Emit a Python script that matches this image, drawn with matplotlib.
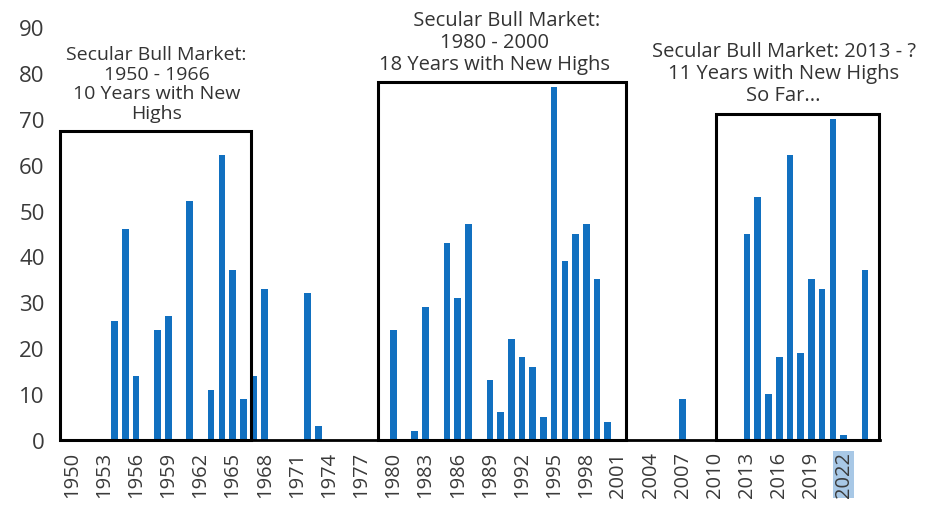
import matplotlib
matplotlib.use("Agg")
import matplotlib.pyplot as plt
from matplotlib.patches import Rectangle

plt.rcParams['font.family'] = ['Open Sans', 'DejaVu Sans']

years = list(range(1950, 2025))
high_years = [1954, 1955, 1956, 1958, 1959, 1961, 1963, 1964, 1965, 1966, 1967, 1968,
              1972, 1973, 1980, 1982, 1983, 1985, 1986, 1987, 1989, 1990, 1991, 1992,
              1993, 1994, 1995, 1996, 1997, 1998, 1999, 2000, 2007, 2013, 2014, 2015,
              2016, 2017, 2018, 2019, 2020, 2021, 2022, 2024]
high_counts = [26, 46, 14, 24, 27, 52, 11, 62, 37, 9, 14, 33,
               32, 3, 24, 2, 29, 43, 31, 47, 13, 6, 22, 18,
               16, 5, 77, 39, 45, 47, 35, 4, 9, 45, 53, 10,
               18, 62, 19, 35, 33, 70, 1, 37]
counts_by_year = dict(zip(high_years, high_counts))
values = [counts_by_year.get(y, 0) for y in years]
tick_years = list(range(1950, 2023, 3))

boxes = [
    (1948.9, 1966.7, 67.3, "Secular Bull Market:\n1950 - 1966\n10 Years with New\nHighs", 1957.9, 69.3, 14),
    (1978.6, 2001.7, 78, "     Secular Bull Market:\n1980 - 2000\n18 Years with New Highs", 1989.4, 79.8, 14.5),
    (2010.1, 2025.3, 71, "Secular Bull Market: 2013 - ?\n11 Years with New Highs\nSo Far...", 2016.4, 73.0, 14.5),
]

fig = plt.figure(figsize=(9.34, 5.06), dpi=100)
ax = fig.add_axes([60/934, 65/506, 820/934, 413/506])
ax.bar(years, values, width=0.62, color='#1170c0', zorder=2)
ax.set_xlim(1948.9, 2025.4)
ax.set_ylim(0, 90)
ax.set_yticks(range(0, 91, 10))
ax.set_xticks(tick_years)
ax.set_xticklabels([str(t) for t in tick_years], rotation=90)
ax.tick_params(axis='both', length=0, colors='#3a3a3a')
ax.tick_params(axis='y', pad=11, labelsize=16)
ax.tick_params(axis='x', pad=8, labelsize=14.5)
for s in ['top', 'right', 'left']:
    ax.spines[s].set_visible(False)
ax.spines['bottom'].set_linewidth(2)
ax.spines['bottom'].set_color('black')

for lbl in ax.get_xticklabels():
    if lbl.get_text() == '2022':
        lbl.set_bbox(dict(facecolor='#a8c8e6', edgecolor='none', pad=0.5))

for x0, x1, top, txt, tx, ty, fs in boxes:
    ax.add_patch(Rectangle((x0, 0), x1 - x0, top, fill=False, edgecolor='black',
                           linewidth=2.2, zorder=3, clip_on=False))
    ax.text(tx, ty, txt, ha='center', va='bottom', fontsize=fs, color='#333333',
            linespacing=1.12, clip_on=False)

fig.savefig('out.png', dpi=100)
